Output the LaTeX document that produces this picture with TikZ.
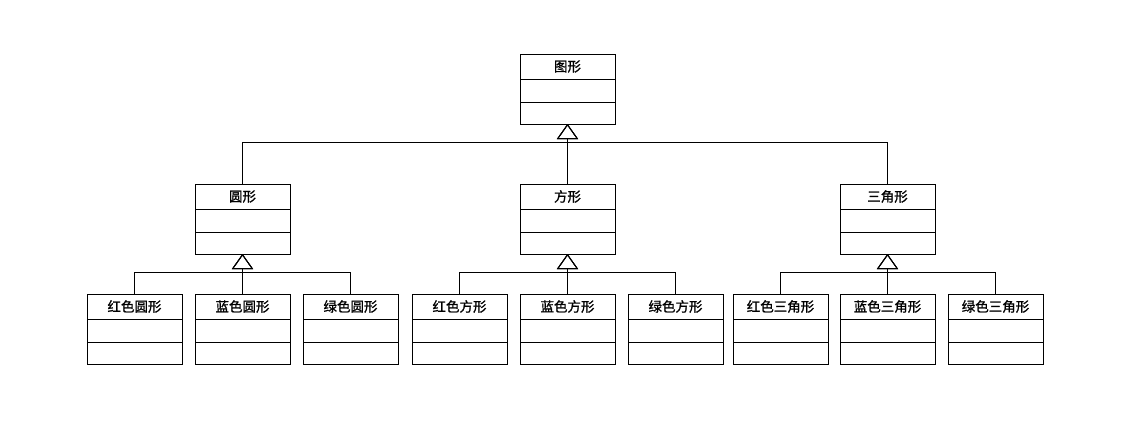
\documentclass[tikz,border=0pt]{standalone}
\usepackage{fontspec}
\newfontfamily\cjk[FakeBold=1.2]{Noto Sans CJK SC}
\usetikzlibrary{arrows.meta}

\begin{document}
\begin{tikzpicture}[x=1pt,y=-1pt,line width=0.9pt,
    nombre/.style={draw,minimum width=95pt,minimum height=25pt,anchor=north,
                   inner sep=0pt,outer sep=0pt,font=\cjk\fontsize{13.5}{15}\selectfont},
    campo/.style={draw,minimum width=95pt,anchor=north,inner sep=0pt,outer sep=0pt},
    hereda/.style={-{Triangle[open,width=21pt,length=15pt]}}]
  \useasboundingbox (0,0) rectangle (1148,424);
  % clases: nombre, atributos, operaciones
  \foreach \n/\x/\y/\t in {
      fig/567.5/54/图形,
      cir/242.5/184/圆形, cua/567.5/184/方形, tri/887.5/184/三角形,
      rc/134.5/294/红色圆形, bc/242.5/294/蓝色圆形, gc/350.5/294/绿色圆形,
      rs/459.5/294/红色方形, bs/567.5/294/蓝色方形, gs/675.5/294/绿色方形,
      rt/780.5/294/红色三角形, bt/887.5/294/蓝色三角形, gt/995.5/294/绿色三角形}{
    \node[nombre] (\n) at (\x,\y) {\t};
    \node[campo,minimum height=23pt] (\n-at) at (\n.south) {};
    \node[campo,minimum height=22pt] (\n-op) at (\n-at.south) {};
  }
  % puntos de union de la herencia
  \coordinate (j0) at (567.5,142.5);
  \coordinate (jc) at (242.5,272.5);
  \coordinate (js) at (567.5,272.5);
  \coordinate (jt) at (887.5,272.5);
  \foreach \h/\p/\j in {cir/fig/j0, cua/fig/j0, tri/fig/j0,
      rc/cir/jc, bc/cir/jc, gc/cir/jc,
      rs/cua/js, bs/cua/js, gs/cua/js,
      rt/tri/jt, bt/tri/jt, gt/tri/jt}
    \draw[hereda] (\h.north) |- (\j) -- (\p-op.south);
\end{tikzpicture}
\end{document}
